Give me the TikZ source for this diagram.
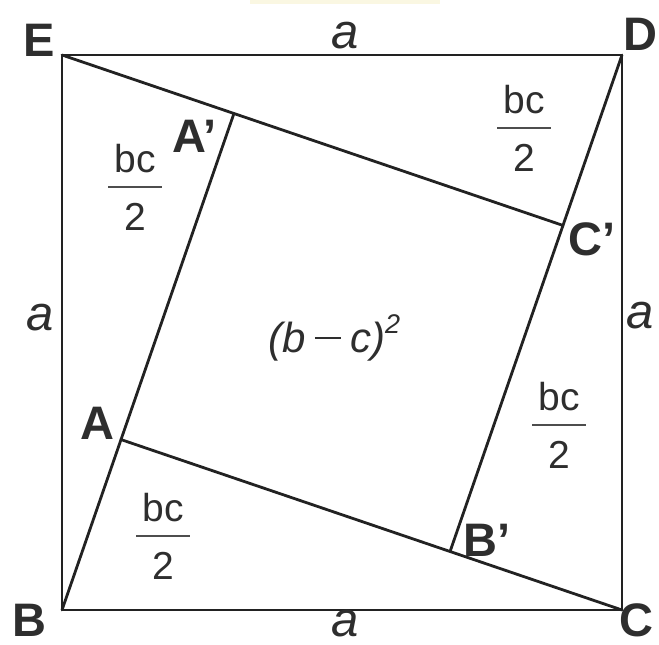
\documentclass[tikz,border=0pt]{standalone}
\usepackage{fontspec}
\setmainfont{Liberation Sans}
\definecolor{ink}{HTML}{222222}
\definecolor{txt}{HTML}{2E2E2E}
\definecolor{band}{HTML}{FAF7E2}
\newcommand\bcfrac[3]{%
  \node[fr,anchor=base] (#1n) at (#2,#3-15) {bc};
  \node[fr,anchor=base] (#1d) at (#2,#3+43) {2};
  \draw[fracline] (#2-27,#3) -- (#2+27,#3);
}
\begin{document}
\begin{tikzpicture}[x=1pt,y=-1pt,
  edge/.style={line width=2.8pt, draw=ink, line cap=round, line join=round},
  fracline/.style={line width=1.6pt, draw=txt!85},
  pt/.style={font=\fontsize{47}{47}\selectfont\bfseries, text=txt, inner sep=0pt},
  side/.style={font=\fontsize{49}{49}\selectfont\itshape, text=txt, inner sep=0pt},
  fr/.style={font=\fontsize{39}{39}\selectfont, text=txt, inner sep=0pt},
  sq/.style={font=\fontsize{42}{42}\selectfont\itshape, text=txt, inner sep=0pt}]
\useasboundingbox (0,0) rectangle (659,645);
\fill[band] (250,0) rectangle (440,4);
% corners and inner points
\coordinate (B) at (62,610);
\coordinate (C) at (622,610);
\coordinate (D) at (622,55);
\coordinate (E) at (62,55);
\coordinate (A) at (121.1,439.6);
\coordinate (Ap) at (233.9,113.6);
\coordinate (Cp) at (562.9,225.4);
\coordinate (Bp) at (450.1,551.4);
% outer square
\draw[edge] (E) -- (D) -- (C) -- (B) -- cycle;
% four triangles
\draw[edge] (B) -- (Ap);
\draw[edge] (E) -- (Cp);
\draw[edge] (D) -- (Bp);
\draw[edge] (C) -- (A);
% point labels
\node[pt,anchor=base west] (lE) at (23,56) {E};
\node[pt,anchor=base west] (lD) at (623,50) {D};
\node[pt,anchor=base west] (lB) at (12,636) {B};
\node[pt,anchor=base west] (lC) at (619,636) {C};
\node[pt,anchor=base west] (lAp) at (172,152) {A’};
\node[pt,anchor=base west] (lA) at (80,439) {A};
\node[pt,anchor=base west] (lBp) at (463,556) {B’};
\node[pt,anchor=base west] (lCp) at (568,255) {C’};
% side labels
\node[side,anchor=base] (sT) at (345,48) {a};
\node[side,anchor=base] (sB) at (345,636) {a};
\node[side,anchor=base] (sL) at (40,330) {a};
\node[side,anchor=base] (sR) at (640,328) {a};
% fractions
\bcfrac{fTL}{135}{187}
\bcfrac{fTR}{524}{128}
\bcfrac{fR}{559}{425}
\bcfrac{fBL}{163}{536}
% inner square
\node[sq,anchor=base west] (inner) at (268,352) {(b\hspace{0.22em}\rule[0.3em]{0.62em}{0.055em}\hspace{0.22em}c)\raisebox{19pt}{\fontsize{27}{27}\selectfont 2}};
\end{tikzpicture}
\end{document}
